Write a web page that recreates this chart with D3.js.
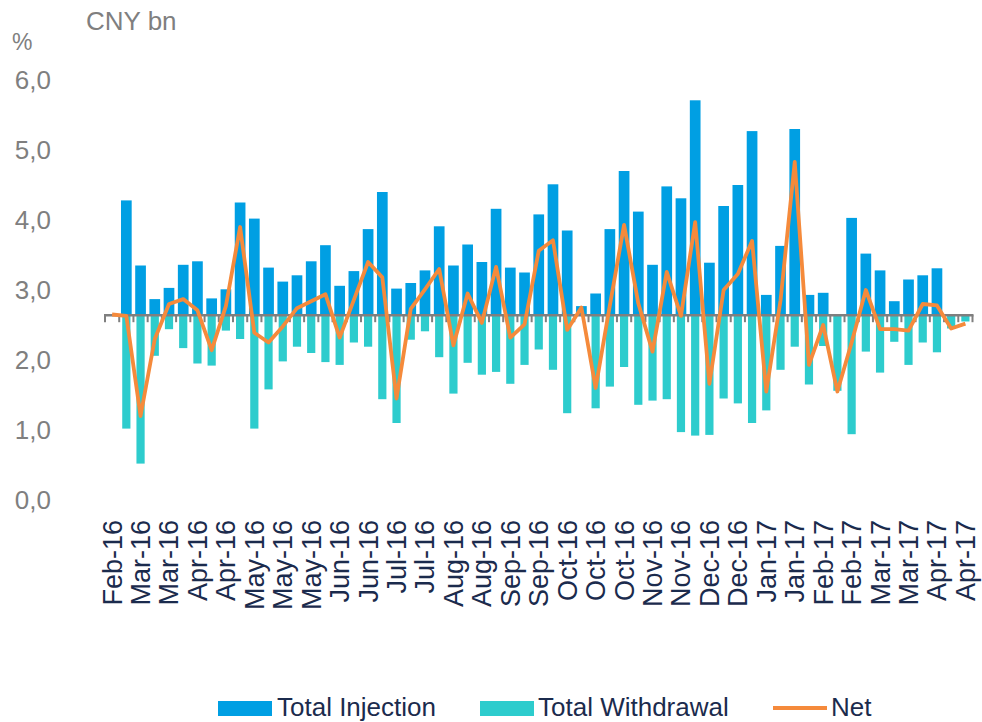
<!DOCTYPE html>
<html>
<head>
<meta charset="utf-8">
<script src="https://cdn.jsdelivr.net/npm/d3@7"></script>
<style>
  body { margin: 0; background: #fff; }
  svg { display: block; font-family: "Liberation Sans", Arial, sans-serif; }
</style>
</head>
<body>
<div id="chart"></div>
<script>
// values read on the left axis; bars run from the baseline to these levels
const baseline = 2.64;

const tickLabels = ["Feb-16", "Mar-16", "Mar-16", "Apr-16", "Apr-16", "May-16", "May-16", "May-16",
  "Jun-16", "Jun-16", "Jul-16", "Jul-16", "Aug-16", "Aug-16", "Sep-16", "Sep-16", "Oct-16", "Oct-16",
  "Oct-16", "Nov-16", "Nov-16", "Dec-16", "Dec-16", "Jan-17", "Jan-17", "Feb-17", "Feb-17",
  "Mar-17", "Mar-17", "Apr-17", "Apr-17"];

const injection = [null, 4.28, 3.35, 2.87, 3.03, 3.36, 3.41, 2.88, 3.01, 4.25,
  4.02, 3.32, 3.12, 3.21, 3.41, 3.64, 3.06, 3.27, 3.87, 4.40,
  3.02, 3.10, 3.28, 3.91, 3.35, 3.65, 3.40, 4.16, 3.32, 3.25,
  4.08, 4.51, 3.85, 2.77, 2.95, 3.87, 4.70, 4.12, 3.36, 4.48,
  4.31, 5.71, 3.39, 4.20, 4.50, 5.27, 2.93, 3.63, 5.30, 2.93,
  2.96, null, 4.03, 3.52, 3.28, 2.84, 3.15, 3.21, 3.31, null, null];

const withdrawal = [null, 1.02, 0.52, 2.06, 2.44, 2.17, 1.95, 1.92, 2.42, 2.30,
  1.02, 1.58, 1.98, 2.19, 2.10, 1.97, 1.93, 2.25, 2.19, 1.44,
  1.10, 2.29, 2.41, 2.04, 1.52, 1.96, 1.79, 1.83, 1.66, 1.93,
  2.15, 1.86, 1.24, null, 1.31, 1.62, 1.90, 1.36, 1.42, 1.44,
  0.97, 0.92, 0.93, 1.45, 1.38, 1.10, 1.28, 1.86, 2.19, 1.65,
  2.20, 1.56, 0.94, 2.12, 1.82, 2.26, 1.93, 2.25, 2.11, 2.45, 2.55];

const net = [2.65, 2.63, 1.20, 2.30, 2.80, 2.87, 2.71, 2.14, 2.77, 3.90,
  2.39, 2.25, 2.48, 2.74, 2.84, 2.94, 2.32, 2.86, 3.40, 3.18,
  1.45, 2.73, 3.01, 3.30, 2.21, 2.95, 2.53, 3.33, 2.32, 2.51,
  3.56, 3.71, 2.43, 2.75, 1.60, 2.78, 3.93, 2.81, 2.12, 3.26,
  2.63, 3.97, 1.66, 3.00, 3.23, 3.70, 1.55, 2.85, 4.83, 1.93,
  2.50, 1.55, 2.25, 3.00, 2.44, 2.44, 2.42, 2.80, 2.78, 2.45, 2.52];

const yTicks = [0, 1, 2, 3, 4, 5, 6];

const width = 982, height = 722;
const blue = "#009fe3", teal = "#2dcccd", orange = "#f58a3b";
const grey = "#7f7f7f", navy = "#1b2b4d";

const svg = d3.select("#chart").append("svg")
  .attr("width", width)
  .attr("height", height);

const x = d3.scaleBand()
  .domain(d3.range(net.length))
  .range([105, 972.5])
  .padding(0);
const cx = i => x(i) + x.bandwidth() / 2;

const y = d3.scaleLinear().domain([0, 6]).range([500, 80]);

// titles
svg.append("text").attr("x", 86).attr("y", 30)
  .attr("font-size", 26).attr("fill", grey).text("CNY bn");
svg.append("text").attr("x", 12).attr("y", 50)
  .attr("font-size", 23).attr("fill", grey).text("%");

// y axis
const yAxis = svg.append("g")
  .attr("transform", "translate(51,0)")
  .call(d3.axisLeft(y).tickValues(yTicks).tickSize(0).tickPadding(0)
    .tickFormat(d => d3.format(".1f")(d).replace(".", ",")));
yAxis.select(".domain").remove();
yAxis.selectAll("text")
  .attr("font-size", 26)
  .attr("font-family", "Liberation Sans, Arial, sans-serif")
  .attr("fill", grey);

// bars
const blueW = 10.7, tealW = 8.2;
svg.append("g").selectAll("rect")
  .data(injection.map((v, i) => ({ v, i })).filter(d => d.v != null))
  .join("rect")
  .attr("x", d => cx(d.i) - blueW / 2)
  .attr("width", blueW)
  .attr("y", d => y(d.v))
  .attr("height", d => y(baseline) - y(d.v))
  .attr("fill", blue);

svg.append("g").selectAll("rect")
  .data(withdrawal.map((v, i) => ({ v, i })).filter(d => d.v != null))
  .join("rect")
  .attr("x", d => cx(d.i) - tealW / 2)
  .attr("width", tealW)
  .attr("y", y(baseline))
  .attr("height", d => y(d.v) - y(baseline))
  .attr("fill", teal);

// baseline axis with ticks between categories
const y0 = y(baseline);
svg.append("line")
  .attr("x1", 104).attr("x2", 973.5)
  .attr("y1", y0).attr("y2", y0)
  .attr("stroke", grey).attr("stroke-width", 2.5);
svg.append("g").selectAll("line")
  .data(d3.range(net.length + 1))
  .join("line")
  .attr("x1", k => 105 + x.step() * k)
  .attr("x2", k => 105 + x.step() * k)
  .attr("y1", y0).attr("y2", y0 + 7)
  .attr("stroke", grey).attr("stroke-width", 2);

// net line
svg.append("path")
  .datum(net)
  .attr("fill", "none")
  .attr("stroke", orange)
  .attr("stroke-width", 3.8)
  .attr("stroke-linejoin", "round")
  .attr("d", d3.line().x((d, i) => cx(i)).y(d => y(d)));

// x labels, every other category
const xAxis = svg.append("g")
  .attr("transform", "translate(0,520)")
  .call(d3.axisBottom(x)
    .tickValues(d3.range(0, net.length, 2))
    .tickSize(0)
    .tickFormat(i => tickLabels[i / 2]));
xAxis.select(".domain").remove();
xAxis.selectAll("text")
  .attr("font-size", 27)
  .attr("font-family", "Liberation Sans, Arial, sans-serif")
  .attr("fill", navy)
  .attr("text-anchor", "end")
  .attr("x", 0).attr("y", 0)
  .attr("dy", "0.35em")
  .attr("transform", "rotate(-90)");

// legend
const legend = svg.append("g");
const items = [
  { name: "Total Injection", color: blue, kind: "rect", x: 218, tx: 277 },
  { name: "Total Withdrawal", color: teal, kind: "rect", x: 480, tx: 538 },
  { name: "Net", color: orange, kind: "line", x: 773, tx: 831 }
];
items.forEach(it => {
  if (it.kind === "rect") {
    legend.append("rect").attr("x", it.x).attr("y", 701)
      .attr("width", 54).attr("height", 15).attr("fill", it.color);
  } else {
    legend.append("line").attr("x1", it.x).attr("x2", it.x + 54)
      .attr("y1", 708).attr("y2", 708)
      .attr("stroke", it.color).attr("stroke-width", 4);
  }
  legend.append("text")
    .attr("x", it.tx).attr("y", 716)
    .attr("font-size", 26).attr("fill", navy)
    .text(it.name);
});
</script>
</body>
</html>
